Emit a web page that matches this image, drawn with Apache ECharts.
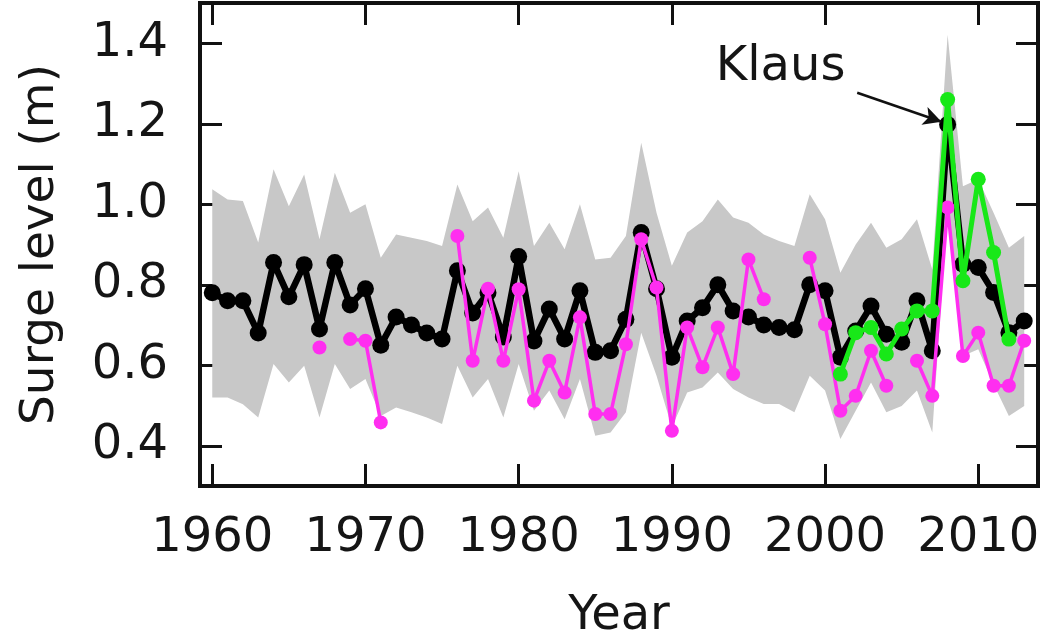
<!DOCTYPE html>
<html>
<head>
<meta charset="utf-8">
<script src="https://cdn.jsdelivr.net/npm/echarts@6/dist/echarts.min.js"></script>
<style>
  html, body { margin: 0; padding: 0; background: #fff; }
  #main { width: 1050px; height: 643px; }
</style>
</head>
<body>
<div id="main"></div>
<script>
/* data */
var years = [1960,1961,1962,1963,1964,1965,1966,1967,1968,1969,
             1970,1971,1972,1973,1974,1975,1976,1977,1978,1979,
             1980,1981,1982,1983,1984,1985,1986,1987,1988,1989,
             1990,1991,1992,1993,1994,1995,1996,1997,1998,1999,
             2000,2001,2002,2003,2004,2005,2006,2007,2008,2009,
             2010,2011,2012,2013];
// black line (all years)
var surgeBlack = [0.78,0.76,0.76,0.68,0.855,0.77,0.85,0.69,0.855,0.75,
                  0.79,0.65,0.72,0.70,0.68,0.665,0.835,0.73,0.78,0.67,
                  0.87,0.66,0.74,0.665,0.785,0.632,0.636,0.714,0.93,0.79,
                  0.62,0.71,0.743,0.80,0.735,0.72,0.70,0.694,0.688,0.80,
                  0.785,0.62,0.685,0.747,0.677,0.657,0.76,0.636,1.198,0.851,
                  0.843,0.781,0.681,0.71];
// magenta line (gaps = null)
var surgePink = [null,null,null,null,null,null,null,0.644,null,0.665,
                 0.661,0.458,null,null,null,null,0.921,0.611,0.79,0.611,
                 0.789,0.512,0.611,0.532,0.719,0.479,0.479,0.652,0.913,0.793,
                 0.437,0.694,0.595,0.694,0.578,0.863,0.764,null,null,0.867,
                 0.702,0.487,0.524,0.636,0.549,null,0.611,0.524,0.992,0.623,
                 0.681,0.549,0.549,0.661];
// green line (2001-2012)
var surgeGreen = [0.578,0.681,0.694,0.628,0.69,0.735,0.735,1.26,0.81,1.062,0.88,0.665];
var greenYears = [2001,2002,2003,2004,2005,2006,2007,2008,2009,2010,2011,2012];
// grey envelope
var bandLow = [0.52,0.52,0.503,0.47,0.603,0.557,0.599,0.47,0.603,0.541,
               0.566,0.474,0.495,0.483,0.47,0.454,0.599,0.52,0.566,0.47,
               0.603,0.487,0.537,0.466,0.566,0.425,0.433,0.483,0.681,0.574,
               0.446,0.532,0.545,0.582,0.541,0.52,0.504,0.504,0.483,0.574,
               0.537,0.417,0.487,0.557,0.483,0.499,0.537,0.433,0.995,0.623,
               0.64,0.553,0.474,0.499];
var bandHigh = [1.037,1.012,1.008,0.905,1.087,0.995,1.074,0.913,1.078,0.979,
                1.0,0.867,0.925,0.917,0.909,0.896,1.049,0.958,0.992,0.917,
                1.082,0.896,0.954,0.888,1.0,0.863,0.867,0.921,1.153,0.979,
                0.847,0.93,0.958,1.012,0.967,0.954,0.925,0.909,0.896,1.025,
                0.963,0.83,0.9,0.954,0.892,0.913,0.963,0.838,1.421,1.045,
                1.062,0.979,0.892,0.921];
var xTicks = [1960,1970,1980,1990,2000,2010];
var yTicks = [0.4,0.6,0.8,1.0,1.2,1.4];

var FONT = 'DejaVu Sans';
var TXT = '#151515';
var chart = echarts.init(document.getElementById('main'));

function pairs(xs, vals) {
    return vals.map(function (v, i) { return [xs[i], v]; });
}

var tickStyle = { show: true, inside: true, length: 22, lineStyle: { color: '#111', width: 3 } };

var option = {
    animation: false,
    grid: { left: 200, right: 12, top: 3, bottom: 157, outerBoundsMode: 'none', containLabel: false,
        show: true, borderColor: '#111', borderWidth: 4, backgroundColor: 'transparent' },
    xAxis: [{
        type: 'value', min: 1959.2, max: 2013.9,
        axisLine: { show: false },
        splitLine: { show: false },
        axisTick: Object.assign({ customValues: xTicks }, tickStyle),
        axisLabel: { customValues: xTicks, margin: 29, fontSize: 48, fontFamily: FONT, color: TXT,
            formatter: function (v) { return String(v); } },
        name: 'Year', nameLocation: 'middle', nameGap: 107,
        nameTextStyle: { fontSize: 48, fontFamily: FONT, color: TXT }
    }, {
        type: 'value', min: 1959.2, max: 2013.9, position: 'top',
        axisLine: { show: false }, splitLine: { show: false },
        axisTick: Object.assign({ customValues: xTicks }, tickStyle),
        axisLabel: { show: false }
    }],
    yAxis: [{
        type: 'value', min: 0.3, max: 1.5,
        axisLine: { show: false },
        splitLine: { show: false },
        axisTick: Object.assign({ customValues: yTicks }, tickStyle),
        axisLabel: { customValues: yTicks, margin: 32, fontSize: 48, fontFamily: FONT, color: TXT,
            formatter: function (v) { return v.toFixed(1); } },
        name: 'Surge level (m)', nameLocation: 'middle', nameGap: 136,
        nameTextStyle: { fontSize: 47, fontFamily: FONT, color: TXT }
    }, {
        type: 'value', min: 0.3, max: 1.5, position: 'right',
        axisLine: { show: false }, splitLine: { show: false },
        axisTick: Object.assign({ customValues: yTicks }, tickStyle),
        axisLabel: { show: false }
    }],
    series: [{
        /* grey envelope drawn as one polygon through the axis scales */
        name: 'band', type: 'custom', silent: true, z: 1,
        data: [[years[0], bandLow[0]]],
        renderItem: function (params, api) {
            var pts = [];
            for (var i = 0; i < years.length; i++) pts.push(api.coord([years[i], bandHigh[i]]));
            for (var j = years.length - 1; j >= 0; j--) pts.push(api.coord([years[j], bandLow[j]]));
            return { type: 'polygon', shape: { points: pts }, style: { fill: '#c8c8c8', stroke: null } };
        }
    }, {
        name: 'black', type: 'line', data: pairs(years, surgeBlack), z: 3,
        symbol: 'circle', symbolSize: 17, showAllSymbol: true,
        itemStyle: { color: '#000' }, lineStyle: { color: '#000', width: 6.5 },
        markLine: {
            silent: true, symbol: ['none', 'arrow'], symbolSize: [14, 18],
            lineStyle: { color: '#111', width: 2.5, type: 'solid' },
            label: { show: false },
            data: [[{ coord: [2002.1, 1.277] }, { coord: [2007.6, 1.205] }]]
        },
        markPoint: {
            silent: true, symbol: 'rect', symbolSize: 1, itemStyle: { color: 'transparent' },
            label: { show: true, formatter: 'Klaus', fontSize: 48, fontFamily: FONT, color: TXT },
            data: [{ coord: [1997.1, 1.34] }]
        }
    }, {
        name: 'pink', type: 'line', data: pairs(years, surgePink), z: 4,
        symbol: 'circle', symbolSize: 14, showAllSymbol: true, connectNulls: false,
        itemStyle: { color: '#ff2ef0' }, lineStyle: { color: '#ff2ef0', width: 3.5 }
    }, {
        name: 'green', type: 'line', data: pairs(greenYears, surgeGreen), z: 5,
        symbol: 'circle', symbolSize: 15, showAllSymbol: true,
        itemStyle: { color: '#18e818' }, lineStyle: { color: '#18e818', width: 5 }
    }]
};
chart.setOption(option);
</script>
</body>
</html>
